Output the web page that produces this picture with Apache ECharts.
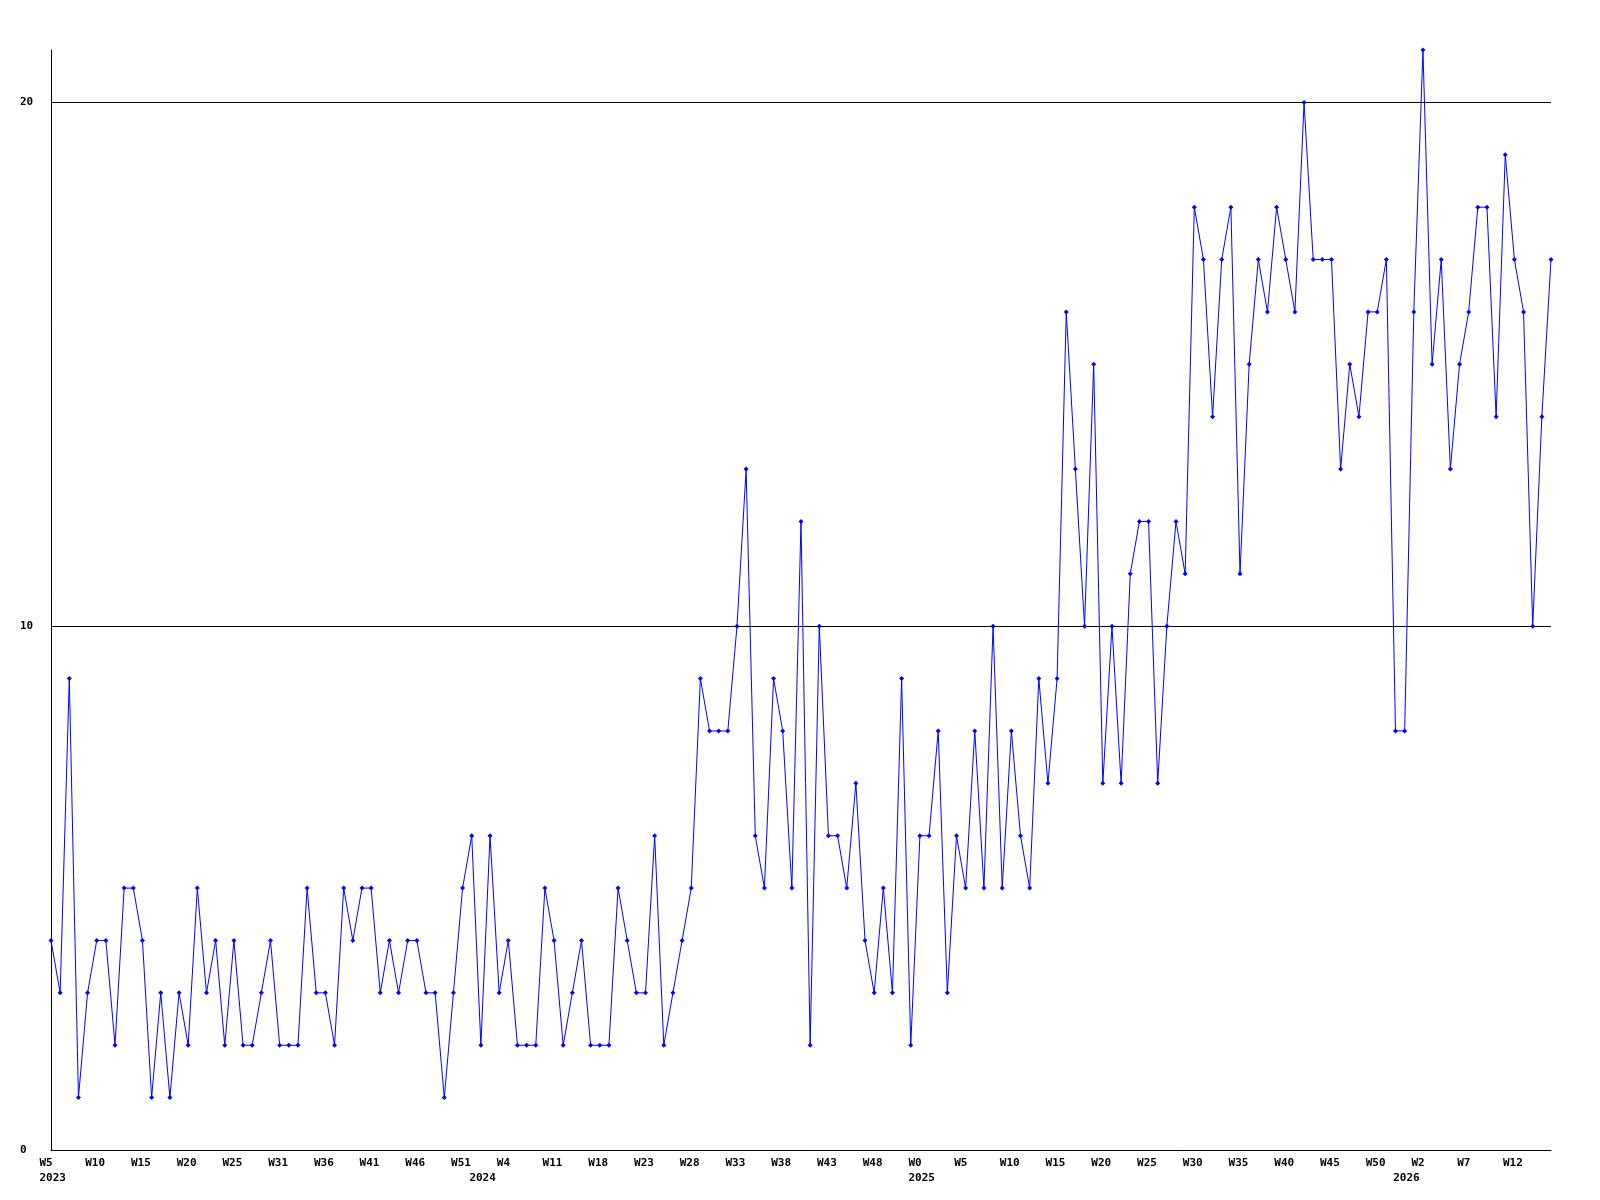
<!DOCTYPE html>
<html>
<head>
<meta charset="utf-8">
<script src="https://cdn.jsdelivr.net/npm/echarts@6/dist/echarts.min.js"></script>
<style>html,body{margin:0;padding:0;background:#fff}#chart{width:1600px;height:1200px}</style>
</head>
<body>
<div id="chart"></div>
<script>
// Tick labels, one every 5 weekly points
const tickLabels = ['W5','W10','W15','W20','W25','W31','W36','W41','W46','W51',
  'W4','W11','W18','W23','W28','W33','W38','W43','W48',
  'W0','W5','W10','W15','W20','W25','W30','W35','W40','W45','W50',
  'W2','W7','W12'];
// Year labels and the point (category index) where each year starts
const yearLabels = ['2023','2024','2025','2026'];
const yearStarts = [0, 47, 95, 148];
// Weekly values
const values = [
  4,3,9,1,3,4,4,2,5,5,
  4,1,3,1,3,2,5,3,4,2,
  4,2,2,3,4,2,2,2,5,3,
  3,2,5,4,5,5,3,4,3,4,
  4,3,3,1,3,5,6,2,6,3,
  4,2,2,2,5,4,2,3,4,2,
  2,2,5,4,3,3,6,2,3,4,
  5,9,8,8,8,10,13,6,5,9,
  8,5,12,2,10,6,6,5,7,4,
  3,5,3,9,2,6,6,8,3,6,
  5,8,5,10,5,8,6,5,9,7,
  9,16,13,10,15,7,10,7,11,12,
  12,7,10,12,11,18,17,14,17,18,
  11,15,17,16,18,17,16,20,17,17,
  17,13,15,14,16,16,17,8,8,16,
  21,15,17,13,15,16,18,18,14,19,
  17,16,10,14,17
];
const categories = values.map((v, i) => i % 5 === 0 ? tickLabels[i / 5] : '#' + i);

const FONT = 'DejaVu Sans Mono';
const richA = {width: 23, align: 'left', fontFamily: FONT, fontWeight: 'bold', fontSize: 11, color: '#000', lineHeight: 15};
const chart = echarts.init(document.getElementById('chart'), null, {renderer: 'canvas'});
chart.setOption({
  animation: false,
  backgroundColor: '#ffffff',
  grid: {left: 51, right: 49, top: 50, bottom: 50, containLabel: false},
  xAxis: [{
    type: 'category',
    data: categories,
    boundaryGap: false,
    axisLine: {show: true, lineStyle: {color: '#000', width: 1}},
    axisTick: {show: false},
    splitLine: {show: false},
    axisLabel: {
      interval: 4,
      margin: 6,
      align: 'center',
      verticalAlign: 'top',
      formatter: function (value, index) {
        if (index % 5 !== 0) return '';
        return '{a|' + tickLabels[index / 5] + '}';
      },
      rich: {a: richA}
    }
  }, {
    type: 'category',
    data: categories,
    position: 'bottom',
    boundaryGap: false,
    axisLine: {show: false},
    axisTick: {show: false},
    splitLine: {show: false},
    axisLabel: {
      interval: 0,
      margin: 21,
      align: 'center',
      verticalAlign: 'top',
      formatter: function (value, index) {
        const k = yearStarts.indexOf(index);
        return k >= 0 ? '{a|' + yearLabels[k] + '}' : '';
      },
      rich: {a: richA}
    }
  }],
  yAxis: {
    type: 'value',
    min: 0,
    max: 21,
    interval: 10,
    axisLine: {show: true, lineStyle: {color: '#000', width: 1}},
    axisTick: {show: false},
    splitLine: {show: true, showMinLine: false, showMaxLine: false, lineStyle: {color: '#000', width: 1}},
    axisLabel: {
      showMaxLabel: false,
      margin: 31,
      align: 'left',
      fontFamily: FONT,
      fontWeight: 'bold',
      fontSize: 11,
      color: '#000'
    }
  },
  series: [{
    type: 'line',
    xAxisIndex: 0,
    data: values,
    symbol: 'diamond',
    symbolSize: 5,
    showAllSymbol: true,
    lineStyle: {color: '#0000ff', width: 1},
    itemStyle: {color: '#0000ff'},
    z: 3
  }]
});
</script>
</body>
</html>
